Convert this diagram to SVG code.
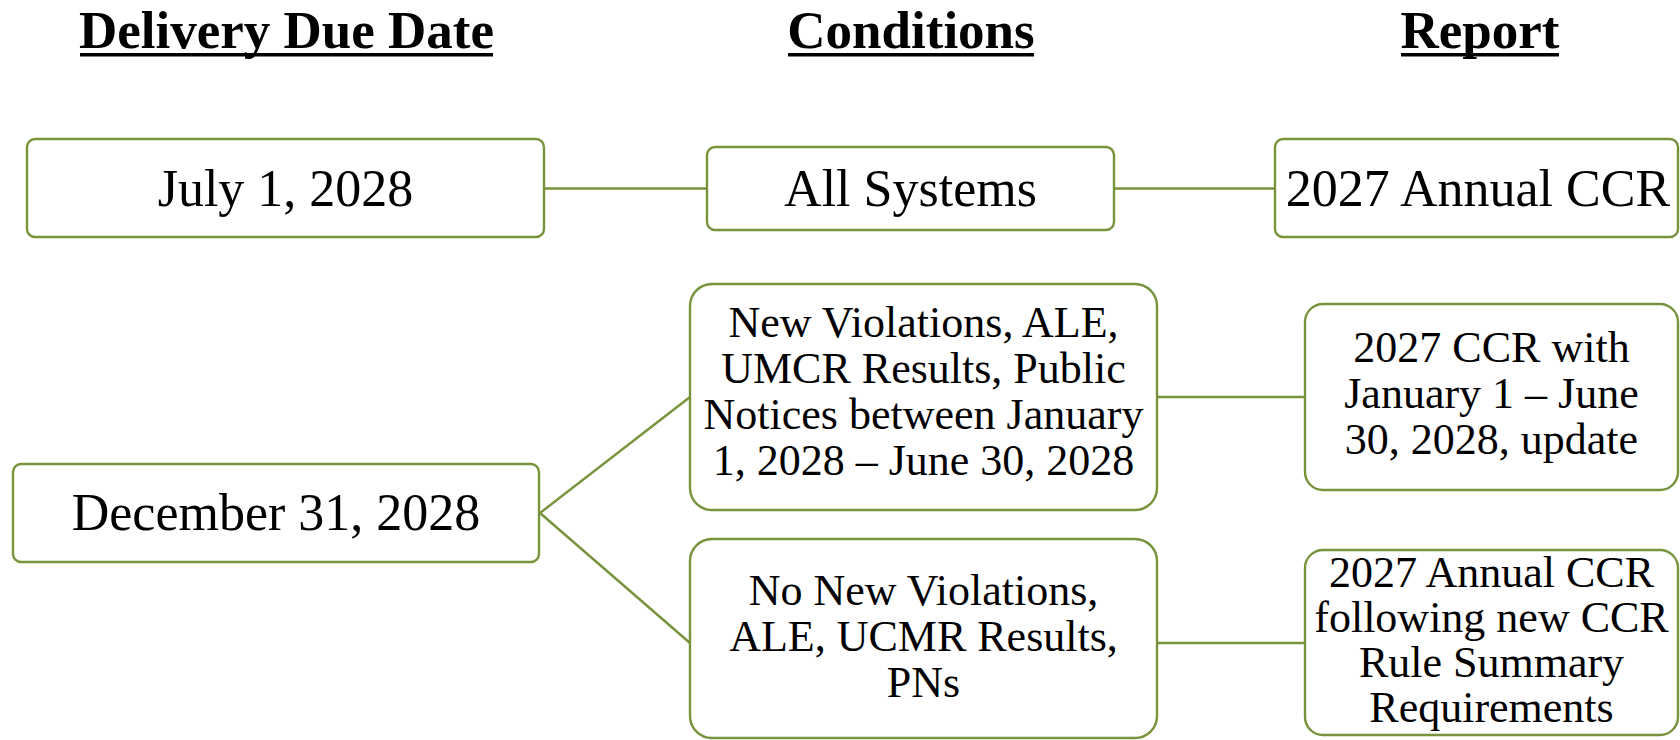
<svg xmlns="http://www.w3.org/2000/svg" width="1680" height="740" viewBox="0 0 1680 740">
<style>
.box{fill:#fff;stroke:#77933C;stroke-width:2.4}
.conn{stroke:#77933C;stroke-width:2.4;fill:none}
.hd{font-family:"Liberation Serif","Times New Roman",serif;font-weight:bold;font-size:53px;fill:#000;text-anchor:middle}
.ul{fill:#000}
.big{font-family:"Liberation Serif","Times New Roman",serif;font-size:52px;fill:#000;text-anchor:middle}
.mid{font-family:"Liberation Serif","Times New Roman",serif;font-size:44px;fill:#000;text-anchor:middle}
</style>
<rect width="1680" height="740" fill="#fff"/>
<g id="headings">
<text class="hd" x="286.5" y="48">Delivery Due Date</text>
<rect class="ul" x="80" y="53" width="413" height="3.5"/>
<text class="hd" x="911" y="48">Conditions</text>
<rect class="ul" x="788" y="53" width="246" height="3.5"/>
<text class="hd" x="1480" y="48">Report</text>
<rect class="ul" x="1401" y="53" width="158" height="3.5"/>
</g>
<g id="connectors">
<line class="conn" x1="544" y1="188.5" x2="707" y2="188.5"/>
<line class="conn" x1="1114" y1="188.5" x2="1275" y2="188.5"/>
<line class="conn" x1="540" y1="513" x2="690" y2="397"/>
<line class="conn" x1="540" y1="513" x2="690" y2="643"/>
<line class="conn" x1="1157" y1="397" x2="1305" y2="397"/>
<line class="conn" x1="1157" y1="643" x2="1305" y2="643"/>
</g>
<g id="node-july">
<rect class="box" x="27" y="139" width="517" height="98" rx="8"/>
<text class="big" x="285.5" y="206">July 1, 2028</text>
</g>
<g id="node-all-systems">
<rect class="box" x="707" y="147" width="407" height="83" rx="8"/>
<text class="big" x="910.5" y="206">All Systems</text>
</g>
<g id="node-2027-annual">
<rect class="box" x="1275" y="139" width="403" height="98" rx="8"/>
<text class="big" x="1478" y="206">2027 Annual CCR</text>
</g>
<g id="node-december">
<rect class="box" x="13" y="464" width="526" height="98" rx="8"/>
<text class="big" x="276" y="530">December 31, 2028</text>
</g>
<g id="node-new-violations">
<rect class="box" x="690" y="284" width="467" height="226" rx="22"/>
<text class="mid" x="923.5" y="337"><tspan x="923.5">New Violations, ALE,</tspan><tspan x="923.5" dy="46">UMCR Results, Public</tspan><tspan x="923.5" dy="46">Notices between January</tspan><tspan x="923.5" dy="46">1, 2028 – June 30, 2028</tspan></text>
</g>
<g id="node-no-new-violations">
<rect class="box" x="690" y="539" width="467" height="199" rx="22"/>
<text class="mid" x="923.5" y="605"><tspan x="923.5">No New Violations,</tspan><tspan x="923.5" dy="46">ALE, UCMR Results,</tspan><tspan x="923.5" dy="46">PNs</tspan></text>
</g>
<g id="node-ccr-update">
<rect class="box" x="1305" y="304" width="373" height="186" rx="18"/>
<text class="mid" x="1491.5" y="362"><tspan x="1491.5">2027 CCR with</tspan><tspan x="1491.5" dy="46">January 1 – June</tspan><tspan x="1491.5" dy="46">30, 2028, update</tspan></text>
</g>
<g id="node-annual-following">
<rect class="box" x="1305" y="550" width="373" height="185" rx="18"/>
<text class="mid" x="1491.5" y="587"><tspan x="1491.5">2027 Annual CCR</tspan><tspan x="1491.5" dy="45">following new CCR</tspan><tspan x="1491.5" dy="45">Rule Summary</tspan><tspan x="1491.5" dy="45">Requirements</tspan></text>
</g>
</svg>
